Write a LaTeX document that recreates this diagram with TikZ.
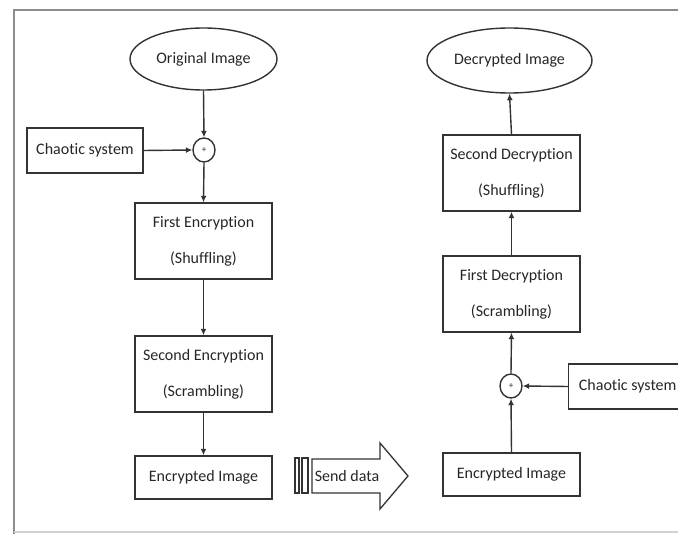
\documentclass[tikz,border=0pt]{standalone}
\usepackage{fontspec}
\setmainfont[Ligatures=NoCommon]{Carlito}
\usetikzlibrary{arrows.meta,shapes.geometric}
\definecolor{ln}{HTML}{333333}
\definecolor{tx}{HTML}{262626}
\begin{document}
\begin{tikzpicture}[x=1pt,y=-1pt,
  every node/.style={text=tx,font=\fontsize{16}{36}\selectfont},
  boxn/.style={draw=ln,line width=1.4pt,minimum width=137pt,minimum height=76pt,inner sep=0pt,align=center},
  smallbox/.style={draw=ln,line width=1.4pt,minimum width=137pt,minimum height=43pt,inner sep=0pt,align=center},
  ell/.style={draw=ln,line width=1.4pt,ellipse,inner sep=0pt},
  xorn/.style={draw=ln,line width=1.4pt,ellipse,minimum width=22pt,minimum height=24pt,inner sep=0pt,font=\fontsize{9}{9}\selectfont},
  arr/.style={draw=ln,line width=1.4pt,-{Latex[length=6.5pt,width=6pt]}}]
\useasboundingbox (0,0) rectangle (678,534);
\clip (0,0) rectangle (678,534);
% frame
\draw[color=black!45,line width=1.5pt] (14,534) -- (14,10) -- (680,10);
\draw[color=black!18,line width=1.2pt] (14,532) -- (680,532);
% left column
\node[ell,minimum width=147pt,minimum height=62pt] (orig) at (203.5,59) {Original Image};
\node[xorn] (x1) at (204,150) {\raisebox{-2pt}{+}};
\node[draw=ln,line width=1.4pt,minimum width=116pt,minimum height=45pt,inner sep=0pt] (ch1) at (85,150.5) {Chaotic system};
\node[boxn] (e1) at (203.5,241) {First Encryption\\(Shuffling)};
\node[boxn] (e2) at (203.5,374) {Second Encryption\\(Scrambling)};
\node[smallbox] (enc1) at (203.5,477.5) {Encrypted Image};
\draw[arr] (orig.south) -- (x1.north);
\draw[arr] (ch1.east) -- (x1.west);
\draw[arr] (x1.south) -- (e1.north);
\draw[arr] (e1.south) -- (e2.north);
\draw[arr] (e2.south) -- (enc1.north);
% send data arrow
\draw[ln,line width=1.4pt] (295,458) rectangle (299,493);
\draw[ln,line width=1.4pt] (302,458) rectangle (308,493);
\draw[ln,line width=1.3pt] (312,459) -- (380,459) -- (380,443) -- (408,476) -- (380,509) -- (380,493) -- (312,493) -- cycle;
\node (send) at (347,476) {Send data};
% right column
\node[ell,minimum width=165pt,minimum height=65pt] (dec) at (509.5,60.5) {Decrypted Image};
\node[boxn] (d2) at (511.5,173) {Second Decryption\\(Shuffling)};
\node[boxn] (d1) at (511.5,294) {First Decryption\\(Scrambling)};
\node[xorn] (x2) at (511,386) {\raisebox{-2pt}{+}};
\node[draw=ln,line width=1.4pt,minimum width=118pt,minimum height=45pt,inner sep=0pt,anchor=west] (ch2) at (568,386.5) {Chaotic system};
\node[smallbox] (enc2) at (511.5,474.5) {Encrypted Image};
\draw[arr] (enc2.north) -- (x2.south);
\draw[arr] (ch2.west) -- (x2.east);
\draw[arr] (x2.north) -- (d1.south);
\draw[arr] (d1.north) -- (d2.south);
\draw[arr] (d2.north) -- (dec.south);
\end{tikzpicture}
\end{document}
